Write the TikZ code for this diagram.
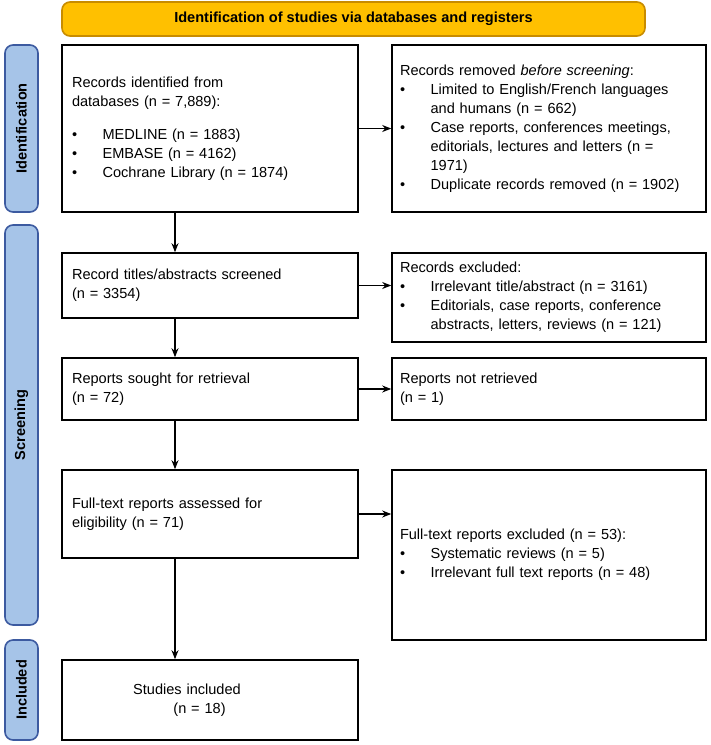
\documentclass[tikz,border=0pt]{standalone}
\usepackage{fontspec}
\setmainfont{Liberation Sans}
\usetikzlibrary{positioning}
\usetikzlibrary{arrows.meta}
\definecolor{phase}{RGB}{166,196,232}
\definecolor{phaseline}{RGB}{60,90,160}
\definecolor{banner}{RGB}{255,192,0}
\definecolor{bannerline}{RGB}{200,140,0}
\newcommand{\bul}{\makebox[2.1em][l]{\textbullet}}
\newcommand{\ind}{\hspace*{2.1em}}
\begin{document}
\begin{tikzpicture}
  [x=0.035cm,y=-0.035cm,
   box/.style = {draw, line width=1.6pt, rectangle, align=left, inner sep=0pt,
                 font=\fontsize{14.5}{19}\selectfont},
   side/.style = {draw=phaseline, line width=1.6pt, fill=phase, rounded corners=8pt,
                  minimum width=33*0.035cm},
   lbl/.style = {rotate=90, font=\bfseries\fontsize{14.5}{17}\selectfont},
   arr/.style = {-{Stealth[length=9pt,width=7pt]}, line width=1.2pt}]

  \useasboundingbox (0,0) rectangle (710,745);

  % banner
  \node[draw=bannerline, fill=banner, rounded corners=8pt, line width=1.6pt,
        minimum width=583*0.035cm, minimum height=34*0.035cm,
        font=\bfseries\fontsize{14.5}{17}\selectfont] (head) at (353.5,19)
        {Identification of studies via databases and registers};

  % phases
  \node[side, minimum height=167*0.035cm] (idn) at (21.5,128.5) {};
  \node[lbl] at (idn) {Identification};
  \node[side, minimum height=400*0.035cm] (scr) at (21.5,425) {};
  \node[lbl] at (scr) {Screening};
  \node[side, minimum height=100*0.035cm] (inc) at (21.5,690) {};
  \node[lbl] at (inc) {Included};

  % left column
  \node[box, minimum width=296*0.035cm, minimum height=167*0.035cm, text width=276*0.035cm] (found) at (210,128.5)
    {Records identified from\\databases (n = 7,889):\\[14pt]
     \bul MEDLINE (n = 1883)\\ \bul EMBASE (n = 4162)\\ \bul Cochrane Library (n = 1874)};
  \node[box, minimum width=296*0.035cm, minimum height=65*0.035cm, text width=276*0.035cm] (screen) at (210,285.5)
    {Record titles/abstracts screened\\(n = 3354)};
  \node[box, minimum width=296*0.035cm, minimum height=62*0.035cm, text width=276*0.035cm] (sought) at (210,389)
    {Reports sought for retrieval\\(n = 72)};
  \node[box, minimum width=296*0.035cm, minimum height=88*0.035cm, text width=276*0.035cm] (assess) at (210,514)
    {Full-text reports assessed for\\eligibility (n = 71)};
  \node[box, minimum width=296*0.035cm, minimum height=80*0.035cm, text width=276*0.035cm] (incl) at (210,700)
    {\ind\ind Studies included\\\ind\ind\ind\ \ (n = 18)};

  % right column
  \node[box, minimum width=314*0.035cm, minimum height=167*0.035cm, text width=298*0.035cm] (removed) at (549,128.5)
    {Records removed \textit{before screening}:\\
     \bul Limited to English/French languages\\ \ind and humans (n = 662)\\
     \bul Case reports, conferences meetings,\\ \ind editorials, lectures and letters (n =\\ \ind 1971)\\
     \bul Duplicate records removed (n = 1902)};
  \node[box, minimum width=314*0.035cm, minimum height=89*0.035cm, text width=298*0.035cm] (excl) at (549,297.5)
    {Records excluded:\\
     \bul Irrelevant title/abstract (n = 3161)\\
     \bul Editorials, case reports, conference\\ \ind abstracts, letters, reviews (n = 121)};
  \node[box, minimum width=314*0.035cm, minimum height=62*0.035cm, text width=298*0.035cm] (notret) at (549,389)
    {Reports not retrieved\\(n = 1)};
  \node[box, minimum width=314*0.035cm, minimum height=170*0.035cm, text width=298*0.035cm] (ftexcl) at (549,555)
    {Full-text reports excluded (n = 53):\\
     \bul Systematic reviews (n = 5)\\
     \bul Irrelevant full text reports (n = 48)};

  % flow
  \draw[arr] (found.south -| 175,0) -- (screen.north -| 175,0);
  \draw[arr] (screen.south -| 175,0) -- (sought.north -| 175,0);
  \draw[arr] (sought.south -| 175,0) -- (assess.north -| 175,0);
  \draw[arr] (assess.south -| 175,0) -- (incl.north -| 175,0);
  \draw[arr] (found.east) -- (found.east -| removed.west);
  \draw[arr] (screen.east) -- (screen.east -| excl.west);
  \draw[arr] (sought.east) -- (notret.west);
  \draw[arr] (assess.east) -- (assess.east -| ftexcl.west);
\end{tikzpicture}
\end{document}
